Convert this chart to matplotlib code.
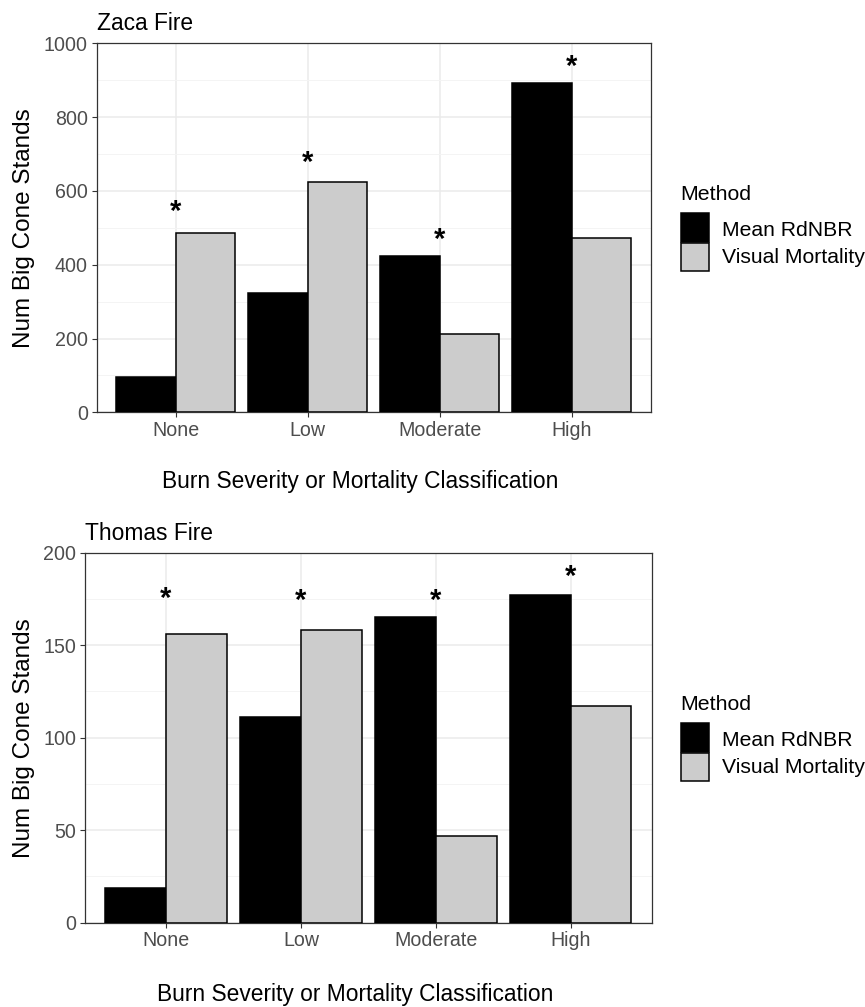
import numpy as np
import matplotlib
matplotlib.use("Agg")
import matplotlib.pyplot as plt
from matplotlib.patches import Rectangle
from matplotlib.ticker import MultipleLocator

plt.rcParams['font.family'] = ['Liberation Sans', 'DejaVu Sans']

categories = ["None", "Low", "Moderate", "High"]
methods = ["Mean RdNBR", "Visual Mortality"]
method_colors = ["#000000", "#CCCCCC"]

zaca_rdnbr = [97, 322, 423, 893]
zaca_visual = [485, 625, 212, 473]
zaca_star_y = [551, 684, 475, 946]

thomas_rdnbr = [19, 111, 165, 177]
thomas_visual = [156, 158, 47, 117]
thomas_star_y = [177, 176, 176, 189]

W, H = 865, 1007
fig = plt.figure(figsize=(W / 100, H / 100), dpi=100)

def fx(px):
    return px / W

def fy(py):
    return 1 - py / H

panels = [
    dict(title="Zaca Fire", rd=zaca_rdnbr, vis=zaca_visual, star=zaca_star_y,
         left=96.7, right=650.7, top=43.3, bottom=412.3, ymax=1000, major=200, minor=100,
         xlab_x=360, xlab_y=481.7, ylab_x=24, leg_dy=0),
    dict(title="Thomas Fire", rd=thomas_rdnbr, vis=thomas_visual, star=thomas_star_y,
         left=85, right=651.7, top=552.7, bottom=922.7, ymax=200, major=50, minor=25,
         xlab_x=355.3, xlab_y=995, ylab_x=24, leg_dy=510),
]

width = 0.45
for p in panels:
    aw = p["right"] - p["left"]
    ah = p["bottom"] - p["top"]
    ax = fig.add_axes([fx(p["left"]), fy(p["bottom"]), aw / W, ah / H])
    x = np.arange(len(categories))
    ax.bar(x - width / 2, p["rd"], width, color=method_colors[0], edgecolor="black", linewidth=1.1, zorder=3)
    ax.bar(x + width / 2, p["vis"], width, color=method_colors[1], edgecolor="black", linewidth=1.1, zorder=3)
    for xi, yi in zip(x, p["star"]):
        ax.annotate("*", (xi, yi), xytext=(0, -8.2), textcoords="offset points",
                    ha="center", va="baseline", fontsize=21, fontweight="bold",
                    color="black", zorder=4)
    ax.set_xlim(-0.6, len(categories) - 0.4)
    ax.set_ylim(0, p["ymax"])
    ax.set_xticks(x)
    ax.set_xticklabels(categories)
    ax.yaxis.set_major_locator(MultipleLocator(p["major"]))
    ax.yaxis.set_minor_locator(MultipleLocator(p["minor"]))
    ax.set_axisbelow(True)
    ax.grid(which="major", color="#EBEBEB", linewidth=1.1, zorder=0)
    ax.yaxis.grid(which="minor", color="#F4F4F4", linewidth=0.7, zorder=0)
    ax.tick_params(which="major", length=3.3, width=0.8, color="#333333",
                   labelsize=14.1, labelcolor="#4D4D4D", pad=3)
    ax.tick_params(which="minor", length=0)
    for s in ax.spines.values():
        s.set_color("#333333")
        s.set_linewidth(0.9)
    ax.set_title(p["title"], loc="left", fontsize=16.4, pad=9.5, color="black")
    ax.set_xlabel("Burn Severity or Mortality Classification", fontsize=16.4, va="center")
    ax.xaxis.set_label_coords((p["xlab_x"] - p["left"]) / aw, -(p["xlab_y"] - p["bottom"]) / ah)
    ax.set_ylabel("Num Big Cone Stands", fontsize=17.5, va="center")
    ax.yaxis.set_label_coords((p["ylab_x"] - p["left"]) / aw, 0.5)

    # legend (drawn manually in figure pixel positions)
    dy = p["leg_dy"]
    fig.text(fx(680), fy(200 + dy), "Method", fontsize=15.3, ha="left", va="baseline")
    key_tops = [213.3, 242.5]
    key_h = 28.8
    label_base = [236, 263.3]
    for c, lab, kt, lb in zip(method_colors, methods, key_tops, label_base):
        fig.add_artist(Rectangle((fx(681), fy(kt + key_h + dy)), 28.3 / W, key_h / H,
                                 transform=fig.transFigure, facecolor=c,
                                 edgecolor="black", linewidth=1.1))
        fig.text(fx(721.5), fy(lb + dy), lab, fontsize=15.2, ha="left", va="baseline")

fig.savefig("out.png", dpi=100)
